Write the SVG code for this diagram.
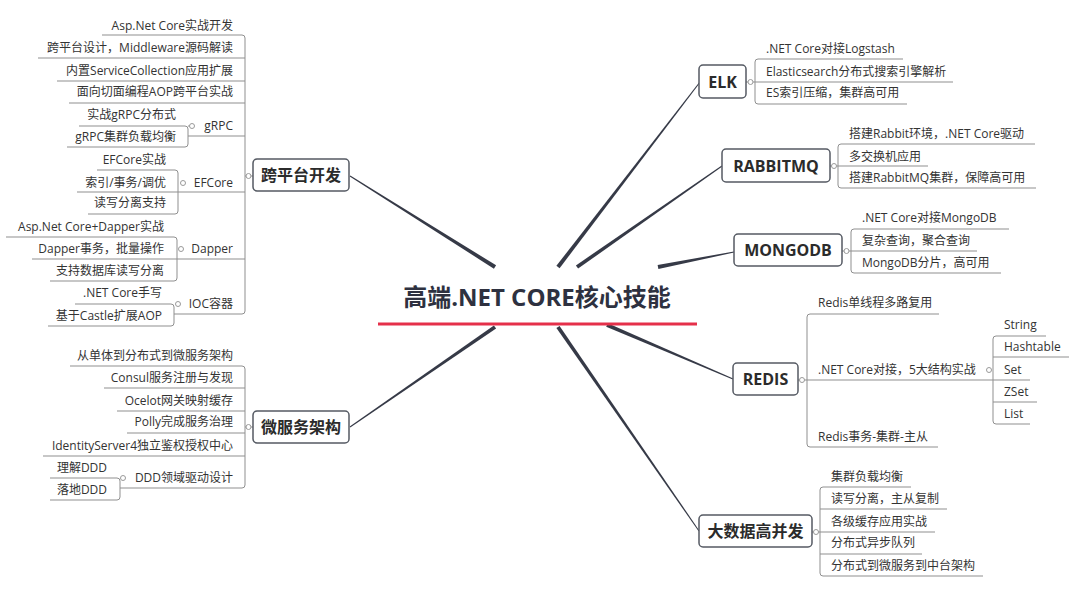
<svg xmlns="http://www.w3.org/2000/svg" width="1080" height="596" viewBox="0 0 1080 596">
<style>
.bg{fill:#ffffff}
.sub{font-family:"Open Sans","Noto Sans CJK SC",sans-serif;font-size:12px;fill:#333333}
.end{text-anchor:end}
.main{font-family:"Open Sans","Noto Sans CJK SC",sans-serif;font-size:16px;font-weight:bold;fill:#2b2b2b;text-anchor:middle}
.title{font-family:"Open Sans","Noto Sans CJK SC",sans-serif;font-size:24px;font-weight:bold;fill:#2e3140;text-anchor:middle}
.box{fill:#ffffff;stroke:#555a63;stroke-width:1.5}
.ln{fill:none;stroke:#8f8f8f;stroke-width:1}
.knob{fill:#ffffff;stroke:#9a9a9a;stroke-width:1}
.taper{fill:#363a47}
</style>
<rect class="bg" x="0" y="0" width="1080" height="596"/>

<g id="connectors">
  <polygon class="taper" points="496.1,265.3 350.3,175.6 349.7,176.4 493.9,268.7"/>
  <polygon class="taper" points="493.9,325.4 349.7,426.6 350.3,427.4 496.1,328.6"/>
  <polygon class="taper" points="559.6,268.2 700.4,82.3 699.6,81.7 556.4,265.8"/>
  <polygon class="taper" points="578.1,268.6 722.3,166.4 721.7,165.6 575.9,265.4"/>
  <polygon class="taper" points="658.4,269 734.1,252.5 733.9,251.5 657.6,265"/>
  <polygon class="taper" points="606.2,326.8 732.8,379.5 733.2,378.5 607.8,323.2"/>
  <polygon class="taper" points="556.4,328.1 698.6,531.3 699.4,530.7 559.6,325.9"/>

  <!-- 跨平台开发 -->
  <path class="ln" d="M102,35 H242 Q245,35 245,38 V311 Q245,314 242,314 H174"/>
  <path class="ln" d="M38,58 H245 M57,81 H245 M69,103 H245 M188,136 H245 M77,192 H245 M32,259 H245 M245,176 H253"/>
  <path class="ln" d="M79,126 H185 Q188,126 188,129 V144 Q188,147 185,147 H67 M188,126 H190"/>
  <path class="ln" d="M97,170 H175 Q178,170 178,173 V211 Q178,214 175,214 H88"/>
  <path class="ln" d="M6,237 H174 Q177,237 177,240 V278 Q177,281 174,281 H50"/>
  <path class="ln" d="M75,304 H171 Q174,304 174,307 V323 Q174,326 171,326 H48"/>
  <!-- 微服务架构 -->
  <path class="ln" d="M70,366 H242 Q245,366 245,369 V485 Q245,488 242,488 H120"/>
  <path class="ln" d="M104,388 H245 M117,411 H245 M127,433 H245 M43,456 H245 M245,427 H253"/>
  <path class="ln" d="M50,478 H117 Q120,478 120,481 V497 Q120,500 117,500 H50"/>
  <!-- ELK -->
  <path class="ln" d="M903,59 H758 Q755,59 755,62 V101 Q755,104 758,104 H907 M746,82 H953"/>
  <!-- RABBITMQ -->
  <path class="ln" d="M1035,144 H841 Q838,144 838,147 V185 Q838,188 841,188 H1036 M830,166 H928"/>
  <!-- MONGODB -->
  <path class="ln" d="M1009,229 H854 Q851,229 851,232 V270 Q851,273 854,273 H1001 M842,251 H977"/>
  <!-- REDIS -->
  <path class="ln" d="M939,314 H810 Q807,314 807,317 V444 Q807,447 810,447 H938 M798,380 H1030"/>
  <path class="ln" d="M1046,336 H996 Q993,336 993,339 V421 Q993,424 996,424 H1030 M993,357 H1069 M993,402 H1037"/>
  <!-- 大数据高并发 -->
  <path class="ln" d="M911,487 H823 Q820,487 820,490 V573 Q820,576 823,576 H983 M812,532 H935 M820,509 H947 M820,554 H922"/>

  <circle class="knob" cx="248.5" cy="176" r="2.5"/>
  <circle class="knob" cx="192" cy="126" r="2.5"/>
  <circle class="knob" cx="183" cy="183" r="2.5"/>
  <circle class="knob" cx="181" cy="249" r="2.5"/>
  <circle class="knob" cx="178" cy="304" r="2.5"/>
  <circle class="knob" cx="248.5" cy="427" r="2.5"/>
  <circle class="knob" cx="123" cy="478" r="2.5"/>
  <circle class="knob" cx="750.5" cy="82" r="2.5"/>
  <circle class="knob" cx="834" cy="166" r="2.5"/>
  <circle class="knob" cx="846.5" cy="251" r="2.5"/>
  <circle class="knob" cx="802" cy="380" r="2.5"/>
  <circle class="knob" cx="989" cy="370" r="2.5"/>
  <circle class="knob" cx="816" cy="532" r="2.5"/>
</g>

<g id="center">
  <text class="title" x="537" y="306">高端.NET CORE核心技能</text>
  <line x1="378" y1="324" x2="697" y2="324" stroke="#e5304a" stroke-width="3"/>
</g>

<g id="kuapingtai">
  <rect class="box" x="253" y="159" width="96" height="32" rx="4"/>
  <text class="main" x="301" y="181">跨平台开发</text>
</g>
<g id="kuapingtai-items">
  <text class="sub end" x="233" y="30">Asp.Net Core实战开发</text>
  <text class="sub end" x="233" y="52">跨平台设计，Middleware源码解读</text>
  <text class="sub end" x="233" y="75">内置ServiceCollection应用扩展</text>
  <text class="sub end" x="233" y="96">面向切面编程AOP跨平台实战</text>
  <g id="grpc">
    <text class="sub end" x="233" y="130">gRPC</text>
    <text class="sub end" x="176" y="119">实战gRPC分布式</text>
    <text class="sub end" x="176" y="141">gRPC集群负载均衡</text>
  </g>
  <g id="efcore">
    <text class="sub end" x="233" y="187">EFCore</text>
    <text class="sub end" x="166" y="164">EFCore实战</text>
    <text class="sub end" x="166" y="187">索引/事务/调优</text>
    <text class="sub end" x="166" y="207">读写分离支持</text>
  </g>
  <g id="dapper">
    <text class="sub end" x="233" y="253">Dapper</text>
    <text class="sub end" x="164" y="231">Asp.Net Core+Dapper实战</text>
    <text class="sub end" x="164" y="253">Dapper事务，批量操作</text>
    <text class="sub end" x="164" y="275">支持数据库读写分离</text>
  </g>
  <g id="ioc">
    <text class="sub end" x="233" y="308">IOC容器</text>
    <text class="sub end" x="162" y="297">.NET Core手写</text>
    <text class="sub end" x="162" y="320">基于Castle扩展AOP</text>
  </g>
</g>

<g id="weifuwu">
  <rect class="box" x="253" y="411" width="96" height="32" rx="4"/>
  <text class="main" x="301" y="433">微服务架构</text>
</g>
<g id="weifuwu-items">
  <text class="sub end" x="233" y="360">从单体到分布式到微服务架构</text>
  <text class="sub end" x="233" y="382">Consul服务注册与发现</text>
  <text class="sub end" x="233" y="405">Ocelot网关映射缓存</text>
  <text class="sub end" x="233" y="426">Polly完成服务治理</text>
  <text class="sub end" x="233" y="450">IdentityServer4独立鉴权授权中心</text>
  <g id="ddd">
    <text class="sub end" x="233" y="482">DDD领域驱动设计</text>
    <text class="sub end" x="107" y="472">理解DDD</text>
    <text class="sub end" x="107" y="494">落地DDD</text>
  </g>
</g>

<g id="elk">
  <rect class="box" x="699" y="65" width="47" height="33" rx="4"/>
  <text class="main" x="722.5" y="87.5">ELK</text>
</g>
<g id="elk-items">
  <text class="sub" x="766" y="53">.NET Core对接Logstash</text>
  <text class="sub" x="766" y="76">Elasticsearch分布式搜索引擎解析</text>
  <text class="sub" x="766" y="97">ES索引压缩，集群高可用</text>
</g>

<g id="rabbitmq">
  <rect class="box" x="722" y="149" width="108" height="33" rx="4"/>
  <text class="main" x="776" y="171.5">RABBITMQ</text>
</g>
<g id="rabbitmq-items">
  <text class="sub" x="849" y="138">搭建Rabbit环境，.NET Core驱动</text>
  <text class="sub" x="849" y="161">多交换机应用</text>
  <text class="sub" x="849" y="182">搭建RabbitMQ集群，保障高可用</text>
</g>

<g id="mongodb">
  <rect class="box" x="734" y="234" width="108" height="32" rx="4"/>
  <text class="main" x="788" y="256">MONGODB</text>
</g>
<g id="mongodb-items">
  <text class="sub" x="862" y="222">.NET Core对接MongoDB</text>
  <text class="sub" x="862" y="245">复杂查询，聚合查询</text>
  <text class="sub" x="862" y="267">MongoDB分片，高可用</text>
</g>

<g id="redis">
  <rect class="box" x="733" y="363" width="65" height="32" rx="4"/>
  <text class="main" x="765.5" y="385">REDIS</text>
</g>
<g id="redis-items">
  <text class="sub" x="818" y="307">Redis单线程多路复用</text>
  <text class="sub" x="818" y="374">.NET Core对接，5大结构实战</text>
  <text class="sub" x="818" y="441">Redis事务-集群-主从</text>
  <g id="redis-structures">
    <text class="sub" x="1004" y="329">String</text>
    <text class="sub" x="1004" y="351">Hashtable</text>
    <text class="sub" x="1004" y="374">Set</text>
    <text class="sub" x="1004" y="396">ZSet</text>
    <text class="sub" x="1004" y="418">List</text>
  </g>
</g>

<g id="bigdata">
  <rect class="box" x="699" y="515" width="113" height="32" rx="4"/>
  <text class="main" x="755.5" y="537">大数据高并发</text>
</g>
<g id="bigdata-items">
  <text class="sub" x="831" y="481">集群负载均衡</text>
  <text class="sub" x="831" y="503">读写分离，主从复制</text>
  <text class="sub" x="831" y="526">各级缓存应用实战</text>
  <text class="sub" x="831" y="547">分布式异步队列</text>
  <text class="sub" x="831" y="570">分布式到微服务到中台架构</text>
</g>
</svg>
